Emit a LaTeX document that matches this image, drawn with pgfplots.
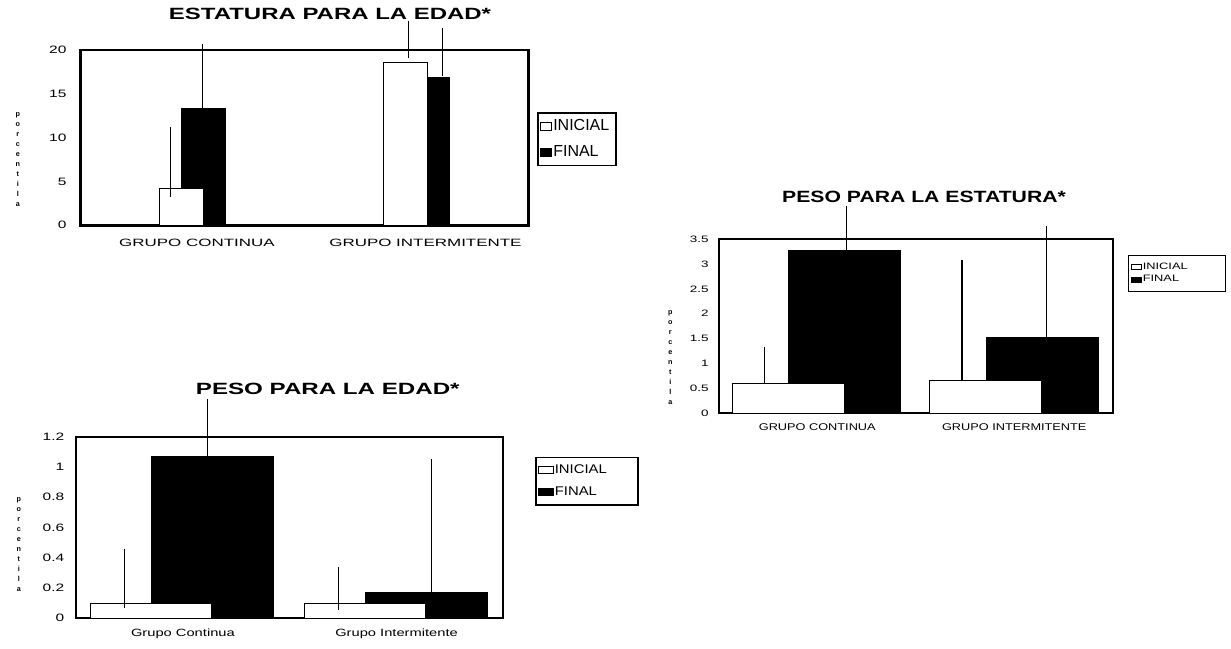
\documentclass[border=0pt]{standalone}
\usepackage{fontspec}
\setmainfont{Liberation Sans}
\newfontfamily\fTitleA[FakeStretch=1.47]{Liberation Sans}
\newfontfamily\fTitleB[FakeStretch=1.30]{Liberation Sans}
\newfontfamily\fTitleC[FakeStretch=1.48]{Liberation Sans}
\newfontfamily\fTick[FakeStretch=1.45]{Liberation Sans}
\newfontfamily\fLabA[FakeStretch=1.6]{Liberation Sans}
\newfontfamily\fLabB[FakeStretch=1.3]{Liberation Sans}
\newfontfamily\fLabC[FakeStretch=1.4]{Liberation Sans}
\newfontfamily\fLegA{Liberation Sans}
\newfontfamily\fLegB[FakeStretch=1.38]{Liberation Sans}
\newfontfamily\fLegC[FakeStretch=1.18]{Liberation Sans}
\usepackage{pgfplots}
\pgfplotsset{compat=1.18}

\pgfplotsset{
  mychart/.style={
    scale only axis, clip=false,
    axis line style={line width=1pt},
    xmin=-0.5, xmax=1.5, ymin=0,
    major tick length=0pt,
    /pgf/number format/assume math mode=true,
    ylabel={p\\o\\r\\c\\e\\n\\t\\i\\l\\a},
    ylabel style={rotate=-90, align=center, anchor=center, font=\bfseries\fontsize{3.6}{5}\selectfont},
    reverse legend,
    legend cell align=left,
    title style={anchor=center},
  },
  finalbar/.style={ybar, bar shift=0pt, fill=black, draw=black, line width=0.5pt},
  inicialbar/.style={ybar, bar shift=0pt, fill=white, draw=black, line width=0.5pt},
  errline/.style={black, line width=0.55pt, forget plot, mark=none},
}

\begin{document}
\begin{tikzpicture}
\path[use as bounding box] (0pt,0pt) rectangle (615.5pt,-324pt);

% ---------- ESTATURA PARA LA EDAD ----------
\begin{axis}[mychart,
  at={(40.25pt,-112.65pt)}, anchor=south west,
  width=224pt, height=87.75pt,
  axis line style={line width=1.2pt},
  ymax=20, ytick={0,5,10,15,20},
  xtick={0.02,1.04}, xticklabels={GRUPO CONTINUA, GRUPO INTERMITENTE},
  x tick label style={font=\fLabA\fontsize{5.3}{6}\selectfont, yshift=-3.5pt},
  y tick label style={font=\fTick\fontsize{5.35}{6}\selectfont, xshift=-3.5pt},
  title={ESTATURA PARA LA EDAD*},
  title style={at={(axis description cs:0.557,1)}, yshift=11.9pt,
    font=\fTitleA\bfseries\fontsize{8.15}{10}\selectfont},
  ylabel style={at={(axis description cs:-0.140,0.376)}},
  legend style={at={(axis description cs:1.0196,0.646)}, anchor=north west,
    draw=black, line width=0.8pt, font=\fLegA\fontsize{8}{9}\selectfont,
    inner xsep=1pt, inner ysep=2.75pt, row sep=4.85pt,
    nodes={inner sep=0.5pt}},
]
\addplot[finalbar, bar width=0.195,
  legend image code/.code={\draw[fill=black,draw=black,line width=0.5pt] (0pt,-2pt) rectangle (5.6pt,2pt);}]
  coordinates {(0.05,13.33) (1.05,16.9)};
\addlegendentry{\makebox[30pt][l]{FINAL}}
\addplot[inicialbar, bar width=0.195,
  legend image code/.code={\draw[fill=white,draw=black,line width=0.5pt] (0pt,-2pt) rectangle (5.6pt,2pt);}]
  coordinates {(-0.05,4.15) (0.95,18.5)};
\addlegendentry{\makebox[30pt][l]{INICIAL}}
\addplot[errline] coordinates {(-0.099,3.25) (-0.099,11.2)};
\addplot[errline] coordinates {(0.046,13.33) (0.046,20.7)};
\addplot[errline] coordinates {(0.963,19.05) (0.963,23.3)};
\addplot[errline] coordinates {(1.116,17.0) (1.116,22.5)};
\end{axis}

% ---------- PESO PARA LA ESTATURA ----------
\begin{axis}[mychart,
  at={(359.4pt,-206.65pt)}, anchor=south west,
  width=196.95pt, height=87.15pt,
  ymax=3.5, ytick={0,0.5,1,1.5,2,2.5,3,3.5},
  xtick={0,1}, xticklabels={GRUPO CONTINUA, GRUPO INTERMITENTE},
  x tick label style={font=\fLabB\fontsize{4.9}{6}\selectfont, yshift=-1.5pt},
  y tick label style={font=\fTick\fontsize{4.65}{6}\selectfont, xshift=-1.5pt},
  title={PESO PARA LA ESTATURA*},
  title style={at={(axis description cs:0.521,1)}, yshift=15.3pt,
    font=\fTitleB\bfseries\fontsize{8.15}{10}\selectfont},
  ylabel style={at={(axis description cs:-0.123,0.32)}},
  legend style={at={(axis description cs:1.039,0.908)}, anchor=north west,
    draw=black, line width=0.7pt, font=\fLegB\fontsize{4.65}{5.5}\selectfont,
    inner xsep=1pt, inner ysep=3pt, row sep=0.3pt,
    nodes={inner sep=0.5pt}},
]
\addplot[finalbar, bar width=0.57,
  legend image code/.code={\draw[fill=black,draw=black,line width=0.5pt] (0pt,-1.25pt) rectangle (5pt,1.25pt);}]
  coordinates {(0.14,3.27) (1.142,1.52)};
\addlegendentry{\makebox[40pt][l]{FINAL}}
\addplot[inicialbar, bar width=0.57,
  legend image code/.code={\draw[fill=white,draw=black,line width=0.5pt] (0pt,-1.25pt) rectangle (5pt,1.25pt);}]
  coordinates {(-0.146,0.59) (0.854,0.66)};
\addlegendentry{\makebox[40pt][l]{INICIAL}}
\addplot[errline] coordinates {(-0.267,0.59) (-0.267,1.34)};
\addplot[errline] coordinates {(0.147,3.27) (0.147,4.16)};
\addplot[errline] coordinates {(0.735,0.66) (0.735,3.08)};
\addplot[errline] coordinates {(1.162,1.52) (1.162,3.77)};
\end{axis}

% ---------- PESO PARA LA EDAD ----------
\begin{axis}[mychart,
  at={(38.05pt,-309.15pt)}, anchor=south west,
  width=213.65pt, height=90.85pt,
  ymax=1.2, ytick={0,0.2,0.4,0.6,0.8,1,1.2},
  xtick={0,1}, xticklabels={Grupo Continua, Grupo Intermitente},
  x tick label style={font=\fLabC\fontsize{5.25}{6}\selectfont, yshift=-2pt},
  y tick label style={font=\fTick\fontsize{5.35}{6}\selectfont, xshift=-2.4pt},
  title={PESO PARA LA EDAD*},
  title style={at={(axis description cs:0.589,1)}, yshift=17.7pt,
    font=\fTitleC\bfseries\fontsize{8.15}{10}\selectfont},
  ylabel style={at={(axis description cs:-0.134,0.403)}},
  legend style={at={(axis description cs:1.074,0.889)}, anchor=north west,
    draw=black, line width=0.8pt, font=\fLegC\fontsize{6.3}{7}\selectfont,
    inner xsep=1pt, inner ysep=3pt, row sep=4pt,
    nodes={inner sep=0.5pt}},
]
\addplot[finalbar, bar width=0.57,
  legend image code/.code={\draw[fill=black,draw=black,line width=0.5pt] (0pt,-1.75pt) rectangle (7.5pt,1.75pt);}]
  coordinates {(0.139,1.067) (1.14,0.17)};
\addlegendentry{\makebox[40pt][l]{FINAL}}
\addplot[inicialbar, bar width=0.57,
  legend image code/.code={\draw[fill=white,draw=black,line width=0.5pt] (0pt,-1.75pt) rectangle (7.5pt,1.75pt);}]
  coordinates {(-0.149,0.1) (0.852,0.1)};
\addlegendentry{\makebox[40pt][l]{INICIAL}}
\addplot[errline] coordinates {(-0.273,0.066) (-0.273,0.46)};
\addplot[errline] coordinates {(0.115,1.067) (0.115,1.446)};
\addplot[errline] coordinates {(0.728,0.055) (0.728,0.34)};
\addplot[errline] coordinates {(1.165,0.17) (1.165,1.05)};
\end{axis}
\end{tikzpicture}
\end{document}
